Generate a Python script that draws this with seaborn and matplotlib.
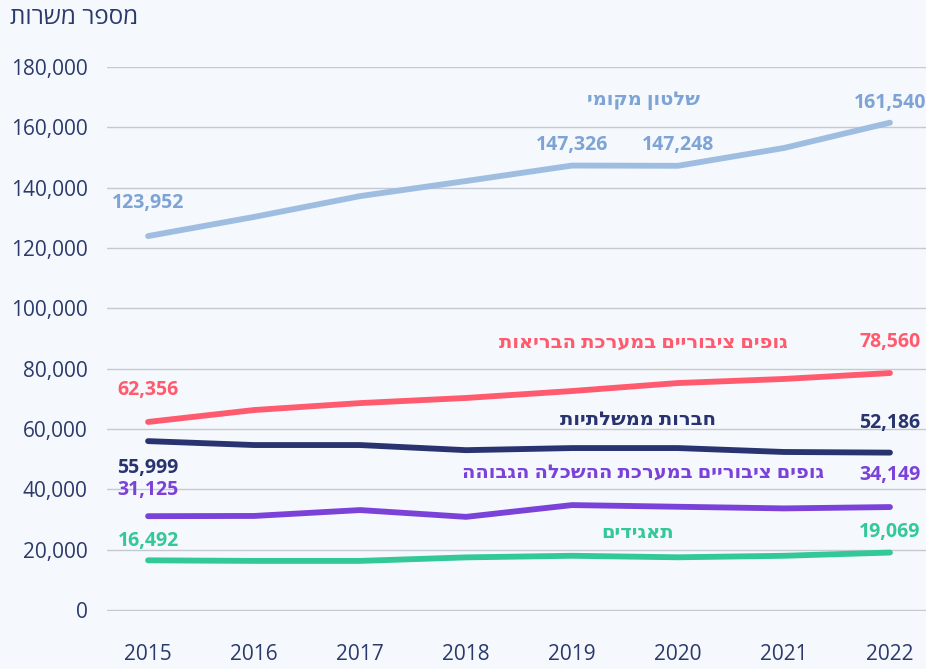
import matplotlib
matplotlib.use("Agg")
import matplotlib.pyplot as plt
import seaborn as sns
import pandas as pd

years = [2015, 2016, 2017, 2018, 2019, 2020, 2021, 2022]

local_gov = [123952, 130300, 137200, 142200, 147326, 147248, 153150, 161540]
health = [62356, 66300, 68600, 70300, 72600, 75250, 76600, 78560]
gov_companies = [55999, 54700, 54700, 53000, 53700, 53700, 52400, 52186]
higher_ed = [31125, 31200, 33150, 30900, 34800, 34250, 33700, 34149]
corporations = [16492, 16300, 16300, 17470, 18000, 17500, 18000, 19069]

series_names = ["שלטון מקומי", "גופים ציבוריים במערכת הבריאות", "חברות ממשלתיות",
                "גופים ציבוריים במערכת ההשכלה הגבוהה", "תאגידים"]
series_values = [local_gov, health, gov_companies, higher_ed, corporations]
line_colors = ["#9ebde1", "#ff5a6e", "#28336f", "#7b42d9", "#33c897"]
text_colors = ["#7ea4d5", "#ff5a6e", "#28336f", "#7b42d9", "#33c897"]
y_ticks = [0, 20000, 40000, 60000, 80000, 100000, 120000, 140000, 160000, 180000]
y_title = "מספר משרות"


def rtl(s):
    # matplotlib has no bidi support, so reverse Hebrew manually
    return s[::-1]


rows = []
for name, vals in zip(series_names, series_values):
    for y, v in zip(years, vals):
        rows.append({"year": y, "value": v, "series": name})
df = pd.DataFrame(rows)

sns.set_theme(style="white")
plt.rcParams["font.family"] = ["Open Sans", "DejaVu Sans"]
bg = "#f5f8fc"
navy = "#2b3a6b"

fig = plt.figure(figsize=(9.26, 6.69), dpi=100, facecolor=bg)
ax = fig.add_axes([0.1156, 0.0867, 0.8844, 0.8132], facecolor=bg)

sns.lineplot(data=df, x="year", y="value", hue="series", hue_order=series_names,
             palette=line_colors, linewidth=4.2, legend=False, ax=ax,
             solid_capstyle="round", zorder=3)

ax.set_ylim(-300, 180000)
ax.set_xlim(2014.613, 2022.34)
ax.set_yticks(y_ticks)
ax.set_yticklabels([f"{t:,}" for t in y_ticks])
ax.set_xticks(years)
ax.set_xticklabels([str(y) for y in years])
ax.grid(axis="y", color="#c5c9d1", linewidth=1)
ax.grid(axis="x", visible=False)
for s in ax.spines.values():
    s.set_visible(False)
ax.tick_params(axis="y", length=0, pad=14, labelsize=15, labelcolor=navy)
ax.tick_params(axis="x", length=0, pad=24, labelsize=15, labelcolor=navy)
ax.set_xlabel("")
ax.set_ylabel("")

fig.text(0.011, 0.973, rtl(y_title), fontsize=17.5, color=navy, ha="left", va="center")

# value labels: (series index, year index, offset in points)
value_labels = [
    (0, 0, 24), (0, 4, 15), (0, 5, 15), (0, 7, 14),
    (1, 0, 23), (1, 7, 22),
    (2, 0, -19), (2, 7, 21),
    (3, 0, 19), (3, 7, 23),
    (4, 0, 14), (4, 7, 15),
]
for si, yi, dy in value_labels:
    v = series_values[si][yi]
    ax.annotate(f"{v:,}", xy=(years[yi], v), xytext=(0, dy), textcoords="offset points",
                ha="center", va="center", fontsize=14, fontweight="bold",
                color=text_colors[si], annotation_clip=False)

# series name labels
name_pos = [(2019.67, 169000), (2019.67, 88500), (2019.62, 63000),
            (2019.67, 45400), (2019.62, 25500)]
for name, (x, y), c in zip(series_names, name_pos, text_colors):
    ax.text(x, y, rtl(name), ha="center", va="center", fontsize=14,
            fontweight="bold", color=c)

fig.savefig("out.png", dpi=100, facecolor=bg)
